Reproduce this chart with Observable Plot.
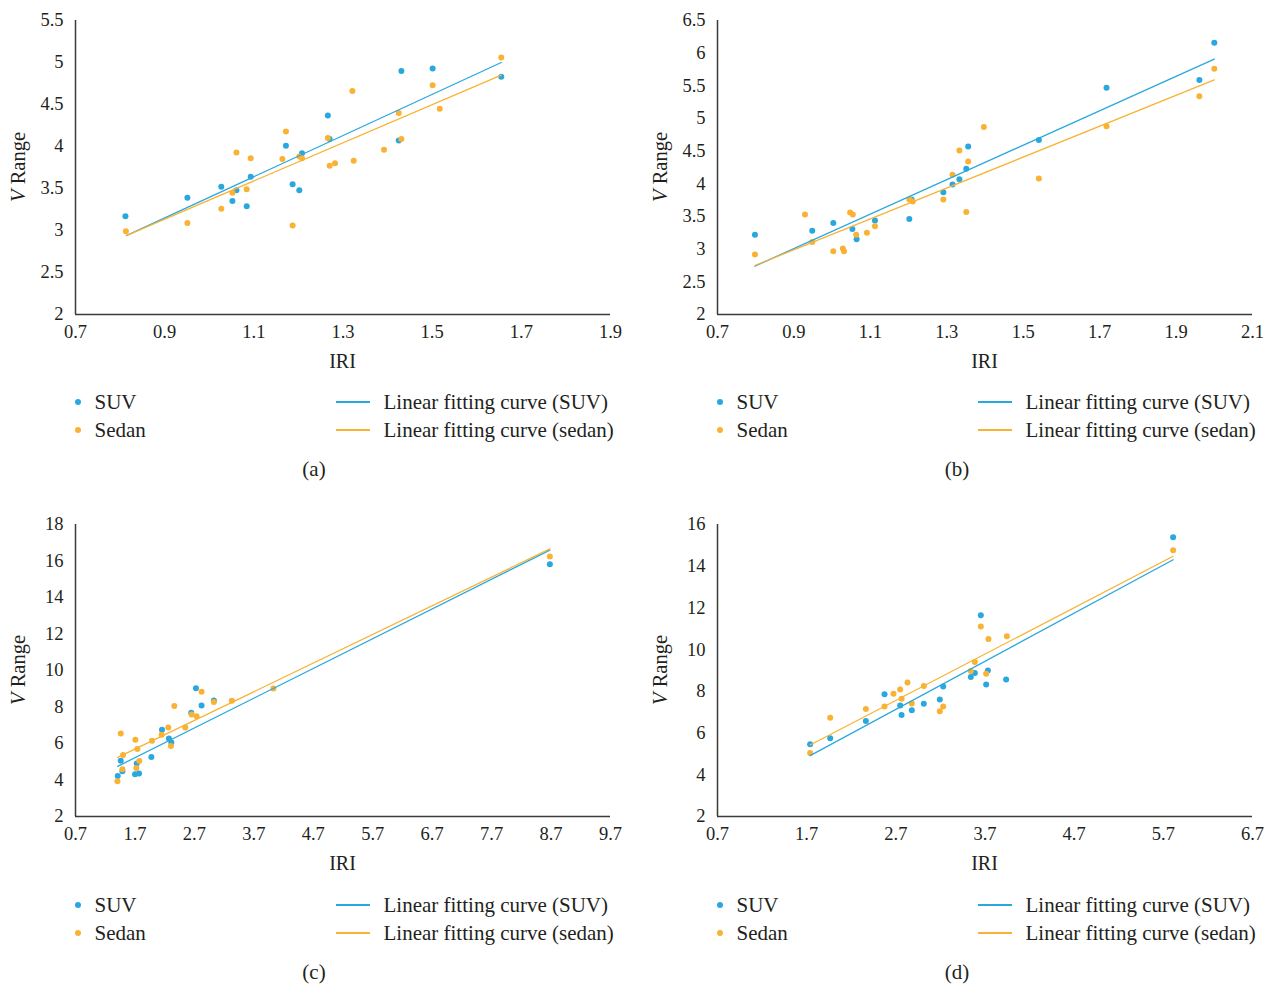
<!DOCTYPE html>
<html><head><meta charset="utf-8">
<script src="https://cdn.jsdelivr.net/npm/d3@7"></script>
<script src="https://cdn.jsdelivr.net/npm/@observablehq/plot@0.6"></script>
<style>
body{margin:0;background:#fff;font-family:"Liberation Serif",serif;color:#231f20}
#root{position:relative;width:1274px;height:987px;overflow:hidden}
.panel{position:absolute;width:637px;height:490px}
.panel svg{position:absolute;left:0;top:0}
.lt{position:absolute;font-size:21px;line-height:24px;height:24px;white-space:nowrap}
.ld{position:absolute;width:6px;height:6px;border-radius:50%}
.ll{position:absolute;height:1.5px}
</style>
</head><body><div id="root"></div>
<script>
const BLUE = "#29a8e0", ORANGE = "#f9b233";

// Panel (a)
const aSuvX = [0.812,0.951,1.027,1.061,1.052,1.084,1.093,1.172,1.187,1.202,1.208,1.266,1.270,1.431,1.501,1.425,1.655];
const aSuvY = [3.17,3.39,3.52,3.48,3.35,3.29,3.64,4.01,3.55,3.48,3.92,4.37,4.09,4.90,4.93,4.07,4.83];
const aSedanX = [0.813,0.951,1.027,1.052,1.061,1.084,1.093,1.164,1.172,1.187,1.202,1.208,1.266,1.270,1.282,1.321,1.324,1.392,1.425,1.431,1.501,1.517,1.655];
const aSedanY = [2.99,3.09,3.26,3.45,3.93,3.49,3.86,3.85,4.18,3.06,3.88,3.86,4.10,3.77,3.80,4.66,3.83,3.96,4.40,4.09,4.73,4.45,5.06];
const aFitSuvX = [0.814,1.655], aFitSuvY = [2.94,5.00];
const aFitSedanX = [0.814,1.655], aFitSedanY = [2.94,4.85];
const aXTicks = [0.7,0.9,1.1,1.3,1.5,1.7,1.9];
const aYTicks = [2,2.5,3,3.5,4,4.5,5,5.5];

// Panel (b)
const bSuvX = [0.798,0.948,1.003,1.053,1.064,1.112,1.202,1.208,1.291,1.315,1.333,1.351,1.356,1.541,1.718,1.961,2.000];
const bSuvY = [3.22,3.28,3.40,3.31,3.15,3.44,3.46,3.76,3.87,3.99,4.07,4.23,4.57,4.67,5.47,5.59,6.16];
const bSedanX = [0.798,0.929,0.948,1.003,1.028,1.031,1.047,1.054,1.063,1.091,1.112,1.202,1.211,1.291,1.315,1.333,1.351,1.356,1.397,1.541,1.718,1.961,2.000];
const bSedanY = [2.92,3.53,3.11,2.97,3.01,2.97,3.56,3.53,3.22,3.25,3.35,3.76,3.73,3.76,4.14,4.51,3.57,4.34,4.87,4.08,4.88,5.34,5.76];
const bFitSuvX = [0.798,2.0], bFitSuvY = [2.74,5.91];
const bFitSedanX = [0.798,2.0], bFitSedanY = [2.75,5.59];
const bXTicks = [0.7,0.9,1.1,1.3,1.5,1.7,1.9,2.1];
const bYTicks = [2,2.5,3,3.5,4,4.5,5,5.5,6,6.5];

// Panel (c)
const cSuvX = [1.411,1.461,1.489,1.702,1.730,1.769,1.976,2.155,2.272,2.312,2.647,2.726,2.821,3.028,8.68];
const cSuvY = [4.22,5.06,4.48,4.31,4.91,4.35,5.26,6.75,6.28,6.06,7.68,9.03,8.08,8.36,15.82];
const cSedanX = [1.405,1.461,1.500,1.489,1.707,1.741,1.724,1.774,1.987,2.149,2.261,2.306,2.362,2.547,2.653,2.737,2.821,3.028,3.330,4.030,8.68];
const cSedanY = [3.93,6.55,5.37,4.59,6.21,5.70,4.66,5.04,6.15,6.48,6.88,5.86,8.05,6.88,7.59,7.50,8.83,8.28,8.34,9.01,16.24];
const cFitSuvX = [1.41,8.68], cFitSuvY = [4.75,16.6];
const cFitSedanX = [1.41,8.68], cFitSedanY = [5.24,16.66];
const cXTicks = [0.7,1.7,2.7,3.7,4.7,5.7,6.7,7.7,8.7,9.7];
const cYTicks = [2,4,6,8,10,12,14,16,18];

// Panel (d)
const dSuvX = [1.739,1.964,2.364,2.573,2.749,2.764,2.879,3.014,3.193,3.231,3.541,3.586,3.653,3.713,3.732,3.937,5.81];
const dSuvY = [5.47,5.75,6.58,7.86,7.32,6.87,7.10,7.40,7.61,8.23,8.69,8.88,11.65,8.33,9.00,8.57,15.39];
const dSedanX = [1.739,1.964,2.364,2.573,2.674,2.749,2.764,2.831,2.879,3.014,3.193,3.231,3.541,3.586,3.653,3.713,3.739,3.945,5.81];
const dSedanY = [5.05,6.74,7.16,7.27,7.88,8.09,7.64,8.42,7.42,8.26,7.05,7.27,8.98,9.41,11.11,8.85,10.51,10.64,14.77];
const dFitSuvX = [1.739,5.81], dFitSuvY = [4.92,14.31];
const dFitSedanX = [1.739,5.81], dFitSedanY = [5.43,14.48];
const dXTicks = [0.7,1.7,2.7,3.7,4.7,5.7,6.7];
const dYTicks = [2,4,6,8,10,12,14,16];

const legendLabels = ["SUV","Sedan","Linear fitting curve (SUV)","Linear fitting curve (sedan)"];
const captions = ["(a)","(b)","(c)","(d)"];

const zip = (xs, ys) => xs.map((x, i) => ({x, y: ys[i]}));

const panels = [
  {left:0, top:0, ml:75, mr:610, mt:20, mb:314, sx:0, cap:captions[0],
   sx1:aSuvX, sy1:aSuvY, sx2:aSedanX, sy2:aSedanY, f1x:aFitSuvX, f1y:aFitSuvY, f2x:aFitSedanX, f2y:aFitSedanY,
   xd:[0.7,1.9], yd:[2,5.5], xt:aXTicks, yt:aYTicks, capX:314},
  {left:637, top:0, ml:80, mr:615, mt:20, mb:314, sx:5, cap:captions[1],
   sx1:bSuvX, sy1:bSuvY, sx2:bSedanX, sy2:bSedanY, f1x:bFitSuvX, f1y:bFitSuvY, f2x:bFitSedanX, f2y:bFitSedanY,
   xd:[0.7,2.1], yd:[2,6.5], xt:bXTicks, yt:bYTicks, capX:320},
  {left:0, top:503, ml:75, mr:610, mt:21, mb:313, sx:0, cap:captions[2],
   sx1:cSuvX, sy1:cSuvY, sx2:cSedanX, sy2:cSedanY, f1x:cFitSuvX, f1y:cFitSuvY, f2x:cFitSedanX, f2y:cFitSedanY,
   xd:[0.7,9.7], yd:[2,18], xt:cXTicks, yt:cYTicks, capX:314},
  {left:637, top:503, ml:80, mr:615, mt:21, mb:313, sx:5, cap:captions[3],
   sx1:dSuvX, sy1:dSuvY, sx2:dSedanX, sy2:dSedanY, f1x:dFitSuvX, f1y:dFitSuvY, f2x:dFitSedanX, f2y:dFitSedanY,
   xd:[0.7,6.7], yd:[2,16], xt:dXTicks, yt:dYTicks, capX:320}
];

const root = document.getElementById("root");
const W = 637, H = 380;
const axisColor = "#3a3a3a";

for (const p of panels) {
  const div = document.createElement("div");
  div.className = "panel";
  div.style.left = p.left + "px";
  div.style.top = p.top + "px";
  root.appendChild(div);

  const svg = Plot.plot({
    width: W, height: H,
    marginLeft: p.ml, marginRight: W - p.mr, marginTop: p.mt, marginBottom: H - p.mb,
    style: {fontFamily: '"Liberation Serif", serif', fontSize: "18.5px", color: "#231f20", background: "transparent", overflow: "visible"},
    x: {domain: p.xd, ticks: p.xt, tickFormat: d3.format(".1f"), tickSize: 0, tickPadding: 10, label: null},
    y: {domain: p.yd, ticks: p.yt, tickFormat: d => String(+d.toFixed(1)), tickSize: 0, tickPadding: 12, label: null},
    marks: [
      Plot.ruleY([p.yd[0]], {stroke: axisColor, strokeWidth: 1.5}),
      Plot.ruleX([p.xd[0]], {stroke: axisColor, strokeWidth: 1.5}),
      Plot.dot(zip(p.sx1, p.sy1), {x: "x", y: "y", r: 3, fill: BLUE}),
      Plot.dot(zip(p.sx2, p.sy2), {x: "x", y: "y", r: 3, fill: ORANGE}),
      Plot.line(zip(p.f1x, p.f1y), {x: "x", y: "y", stroke: BLUE, strokeWidth: 1.3}),
      Plot.line(zip(p.f2x, p.f2y), {x: "x", y: "y", stroke: ORANGE, strokeWidth: 1.3})
    ]
  });
  div.appendChild(svg);

  const s = d3.select(svg);
  const cx = (p.ml + p.mr) / 2, cy = (p.mt + p.mb) / 2;
  s.append("text").attr("x", cx).attr("y", p.mb + 54).attr("text-anchor", "middle")
    .attr("font-size", 20).attr("fill", "#231f20").text("IRI");
  const t = s.append("text").attr("transform", `translate(${18 + p.sx + 7},${cy}) rotate(-90)`)
    .attr("text-anchor", "middle").attr("font-size", 20.5).attr("fill", "#231f20");
  t.append("tspan").attr("font-style", "italic").text("V");
  t.append("tspan").text(" Range");

  // legend
  const rows = [{y: 402, c: BLUE}, {y: 430, c: ORANGE}];
  rows.forEach((r, i) => {
    const d = document.createElement("div");
    d.className = "ld"; d.style.background = r.c;
    d.style.left = (78 + p.sx - 3) + "px"; d.style.top = (r.y - 3) + "px";
    div.appendChild(d);
    const tx = document.createElement("div");
    tx.className = "lt"; tx.textContent = legendLabels[i];
    tx.style.left = (94.5 + p.sx) + "px"; tx.style.top = (r.y - 12) + "px";
    div.appendChild(tx);
    const l = document.createElement("div");
    l.className = "ll"; l.style.background = r.c;
    l.style.left = (335.5 + p.sx) + "px"; l.style.width = "34px"; l.style.top = (r.y - 1) + "px";
    div.appendChild(l);
    const tx2 = document.createElement("div");
    tx2.className = "lt"; tx2.textContent = legendLabels[i + 2];
    tx2.style.left = (383.5 + p.sx) + "px"; tx2.style.top = (r.y - 12) + "px";
    div.appendChild(tx2);
  });
  const cap = document.createElement("div");
  cap.className = "lt"; cap.textContent = p.cap;
  cap.style.left = (p.capX - 40) + "px"; cap.style.width = "80px"; cap.style.textAlign = "center";
  cap.style.top = "457px";
  div.appendChild(cap);
}
</script>
</body></html>
